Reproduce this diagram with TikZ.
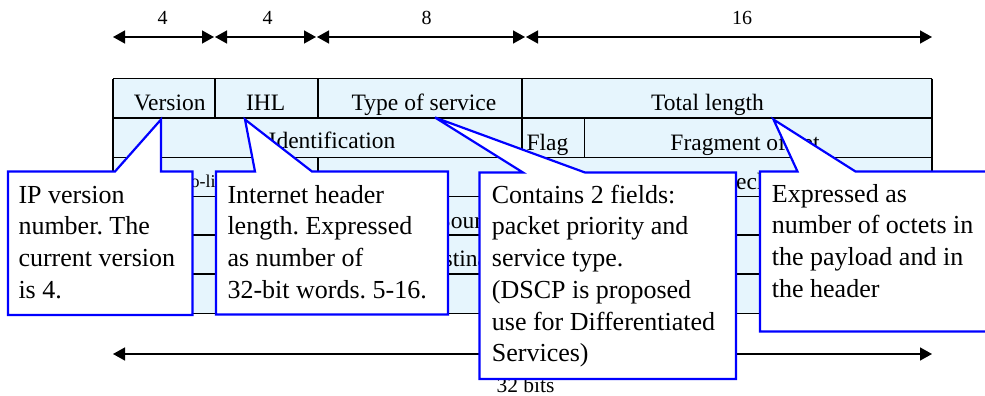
\documentclass[tikz,border=0pt]{standalone}
\usepackage{fontspec}
\setmainfont{Liberation Serif}
\usepackage{xcolor}
\usepackage{tikz}
\usetikzlibrary{arrows.meta}
\frenchspacing

\definecolor{cellfill}{RGB}{230,245,253}
\definecolor{noteblue}{RGB}{0,0,255}

\begin{document}
\begin{tikzpicture}[
  x=1pt, y=-1pt,
  field/.style  = {font=\fontsize{23.5}{26}\selectfont, anchor=base, inner sep=0pt},
  bits/.style   = {font=\fontsize{20}{24}\selectfont, anchor=base, inner sep=0pt},
  dim/.style    = {{Triangle[length=12pt,width=13pt]}-{Triangle[length=12pt,width=13pt]}, line width=1.5pt},
  rule/.style   = {draw=black, line width=1.6pt},
  callout/.style = {draw=noteblue, fill=white, line width=2.2pt, line join=miter, miter limit=4},
  note/.style   = {font=\fontsize{26}{31.7}\selectfont, anchor=base west, align=left, inner sep=0pt},
]
  \useasboundingbox (0,0) rectangle (985,396);
  \clip (0,0) rectangle (985,396);

  % bit widths on top
  \coordinate (w0) at (113,37);
  \coordinate (w1) at (214,37);
  \coordinate (w2) at (316,37);
  \coordinate (w3) at (525,37);
  \coordinate (w4) at (932,37);
  \draw[dim] (w0) -- (w1);
  \draw[dim, shorten <=1pt] (w1) -- (w2);
  \draw[dim, shorten <=1pt] (w2) -- (w3);
  \draw[dim, shorten <=1pt] (w3) -- (w4);
  \node[bits] (n4a) at (162.5,25) {4};
  \node[bits] (n4b) at (267.5,25) {4};
  \node[bits] (n8)  at (426.7,25) {8};
  \node[bits] (n16) at (742,25)   {16};

  % header table
  \fill[cellfill] (113,78.5) rectangle (932,313.5);
  \foreach \y in {78.5,118,157.5,196.5,235,274,313.5}
    \draw[rule] (113,\y) -- (932,\y);
  \draw[rule] (113,78.5) -- (113,313.5);
  \draw[rule] (932,78.5) -- (932,313.5);
  \foreach \x in {215,318,522}
    \draw[rule] (\x,78.5) -- (\x,118);
  \foreach \x in {522,584.5}
    \draw[rule] (\x,118) -- (\x,157.5);
  \foreach \x in {318,522}
    \draw[rule] (\x,157.5) -- (\x,196.5);

  \node[field] (version) at (169.7,110.7) {Version};
  \node[field] (ihl)     at (265.7,110.7) {IHL};
  \node[field] (tos)     at (424,110.7)   {Type of service};
  \node[field] (totlen)  at (707.5,110.7) {Total length};
  \node[field] (ident)   at (332,148.3)   {Identification};
  \node[field] (flag)    at (547.5,150)   {Flag};
  \node[field] (fragoff) at (745,150)     {Fragment offset};
  \node[field, font=\fontsize{18}{20}\selectfont] (ttl) at (187.5,187) {Time-to-live};
  \node[field] (hcsum)   at (724,189)     {Header checksum};
  \node[field] (srcaddr) at (522,228)     {Source IP address};
  \node[field] (dstaddr) at (522,266)     {Destination IP address};

  % total width
  \coordinate (t0) at (113,354);
  \coordinate (t1) at (932,354);
  \draw[dim] (t0) -- (t1);
  \node[field, font=\fontsize{21.5}{24}\selectfont] (total) at (525.5,392) {32 bits};

  % callouts (text nodes sit on their last baseline)
  \draw[callout] (8,171.5) -- (115,171.5) -- (161,119.5) -- (161,171.5)
    -- (192.5,171.5) -- (192.5,315) -- (8,315) -- cycle;
  \node[note] (vnote) at (18.3,298.3) {IP version\\number. The\\current version\\is 4.};

  \draw[callout] (216,171.5) -- (255,171.5) -- (245,119.5) -- (312,171.5)
    -- (448,171.5) -- (448,314.5) -- (216,314.5) -- cycle;
  \node[note] (ihlnote) at (227.3,298.3) {Internet header\\length. Expressed\\as number of\\32-bit words. 5-16.};

  \draw[callout] (479.5,172.5) -- (523,172.5) -- (435,117.5) -- (585,172.5)
    -- (736,172.5) -- (736,379) -- (479.5,379) -- cycle;
  \node[note] (tosnote) at (491.7,361.7) {Contains 2 fields:\\packet priority and\\service type.\\(DSCP is proposed\\use for Differentiated\\Services)};

  \draw[callout] (760,171.5) -- (797.5,171.5) -- (773.5,119.5) -- (855.5,171.5)
    -- (1000,171.5) -- (1000,331.5) -- (760,331.5) -- cycle;
  \node[note] (lennote) at (771.7,297.3) {Expressed as\\number of octets in\\the payload and in\\the header};
\end{tikzpicture}
\end{document}
